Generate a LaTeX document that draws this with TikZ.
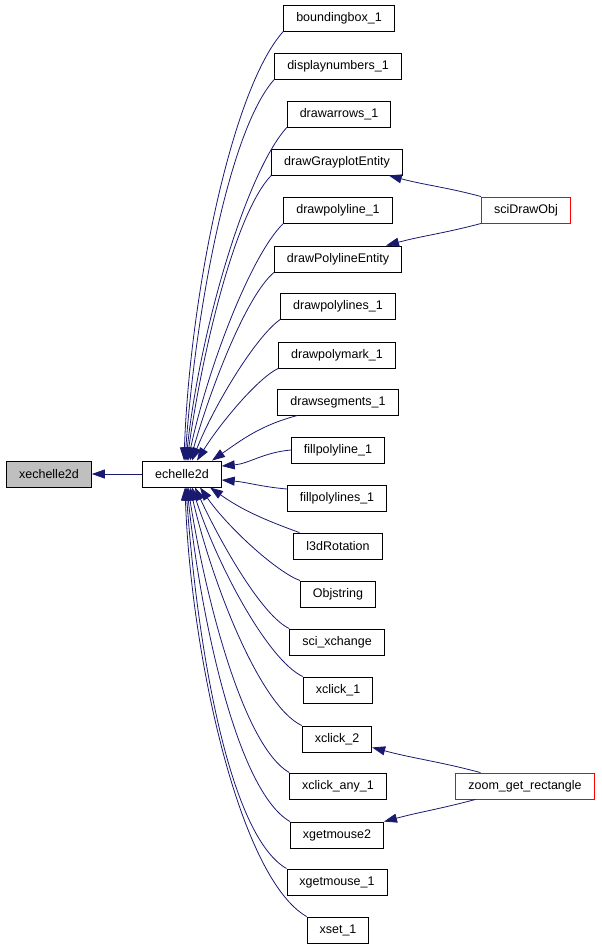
\documentclass[tikz,border=0pt]{standalone}
\usepackage{fontspec}
\setmainfont{Liberation Sans}
\usetikzlibrary{arrows.meta}
\definecolor{edgeblue}{RGB}{25,25,112}
\definecolor{rootgray}{RGB}{191,191,191}
\begin{document}
\begin{tikzpicture}[x=1pt, y=1pt,
  fn/.style={draw=black, line width=0.9pt, minimum height=26pt, inner xsep=12.5pt, inner ysep=0pt, font=\fontsize{12.5}{14}\selectfont},
  root/.style={fn, fill=rootgray},
  leaf/.style={fn, draw=red},
  call/.style={draw=edgeblue, line width=0.8pt, -{Triangle[length=13pt,width=9pt]}},
  longcall/.style={call, out looseness=0.45, in looseness=0.95}]
\useasboundingbox (0,0) rectangle (602,-946);
\node[root] (xe2d) at (49,-474) {xechelle2d};
\node[fn] (e2d) at (182,-474) {echelle2d};
\node[fn] (bbox) at (339,-18) {boundingbox\_1};
\node[fn] (dnum) at (338,-66) {displaynumbers\_1};
\node[fn] (darr) at (339,-114) {drawarrows\_1};
\node[fn] (dgray) at (337,-162) {drawGrayplotEntity};
\node[fn] (dpl) at (338,-210) {drawpolyline\_1};
\node[fn] (dple) at (338,-259) {drawPolylineEntity};
\node[fn] (dpls) at (338,-306) {drawpolylines\_1};
\node[fn] (dpm) at (337,-355) {drawpolymark\_1};
\node[fn] (dseg) at (338,-402) {drawsegments\_1};
\node[fn] (fpl) at (338,-450) {fillpolyline\_1};
\node[fn] (fpls) at (337,-498) {fillpolylines\_1};
\node[fn] (rot) at (338,-546) {l3dRotation};
\node[fn] (ostr) at (338,-594) {Objstring};
\node[fn] (xchg) at (337,-642) {sci\_xchange};
\node[fn] (xc1) at (338,-690) {xclick\_1};
\node[fn] (xc2) at (337,-739) {xclick\_2};
\node[fn] (xca) at (338,-786) {xclick\_any\_1};
\node[fn] (xgm2) at (337,-835) {xgetmouse2};
\node[fn] (xgm1) at (337,-882) {xgetmouse\_1};
\node[fn] (xset) at (338,-930) {xset\_1};
\node[leaf] (sdo) at (526,-210) {sciDrawObj};
\node[leaf] (zgr) at (525,-786) {zoom\_get\_rectangle};
% callers of echelle2d
\path (e2d) edge[call] (xe2d);
\path (bbox.south west) edge[longcall, out=228, in=88] ([xshift=2pt]e2d.north);
\path (dnum.south west) edge[longcall, out=228, in=86] ([xshift=3pt]e2d.north);
\path (darr.south west) edge[longcall, out=228, in=84] ([xshift=4pt]e2d.north);
\path (dgray.south west) edge[longcall, out=226, in=82] ([xshift=5pt]e2d.north);
\path (dpl.south west) edge[longcall, out=224, in=78] ([xshift=6pt]e2d.north);
\path (dple.south west) edge[longcall, out=220, in=74] ([xshift=8pt]e2d.north);
\path (dpls.south west) edge[longcall, out=215, in=68] ([xshift=10pt]e2d.north);
\path (dpm.south west) edge[longcall, out=205, in=58] ([xshift=15pt]e2d.north);
\path ([xshift=20pt]dseg.south west) edge[call, out=195, in=35] ([xshift=30pt]e2d.north);
\path (fpl.west) edge[call, out=185, in=5] ([yshift=8pt]e2d.east);
\path ([yshift=9pt]fpls.west) edge[call, out=175, in=-5] ([yshift=-6pt]e2d.east);
\path ([xshift=6pt]rot.north west) edge[call, out=160, in=-35] ([xshift=28pt]e2d.south);
\path (ostr.north west) edge[longcall, out=160, in=-55] ([xshift=18pt]e2d.south);
\path (xchg.north west) edge[longcall, out=155, in=-65] ([xshift=13pt]e2d.south);
\path (xc1.north west) edge[longcall, out=155, in=-72] ([xshift=10pt]e2d.south);
\path (xc2.north west) edge[longcall, out=155, in=-77] ([xshift=8pt]e2d.south);
\path (xca.north west) edge[longcall, out=150, in=-81] ([xshift=6pt]e2d.south);
\path (xgm2.north west) edge[longcall, out=150, in=-84] ([xshift=5pt]e2d.south);
\path (xgm1.north west) edge[longcall, out=150, in=-86] ([xshift=4pt]e2d.south);
\path (xset.north west) edge[longcall, out=150, in=-88] ([xshift=3pt]e2d.south);
% second level callers
\path (sdo.north west) edge[call, out=165, in=-15] ([xshift=-14pt]dgray.south east);
\path (sdo.south west) edge[call, out=195, in=15] ([xshift=-16pt]dple.north east);
\path ([xshift=25pt]zgr.north west) edge[call, out=165, in=-15] ([yshift=5pt]xc2.south east);
\path ([xshift=20pt]zgr.south west) edge[call, out=195, in=15] (xgm2.north east);
\end{tikzpicture}
\end{document}
